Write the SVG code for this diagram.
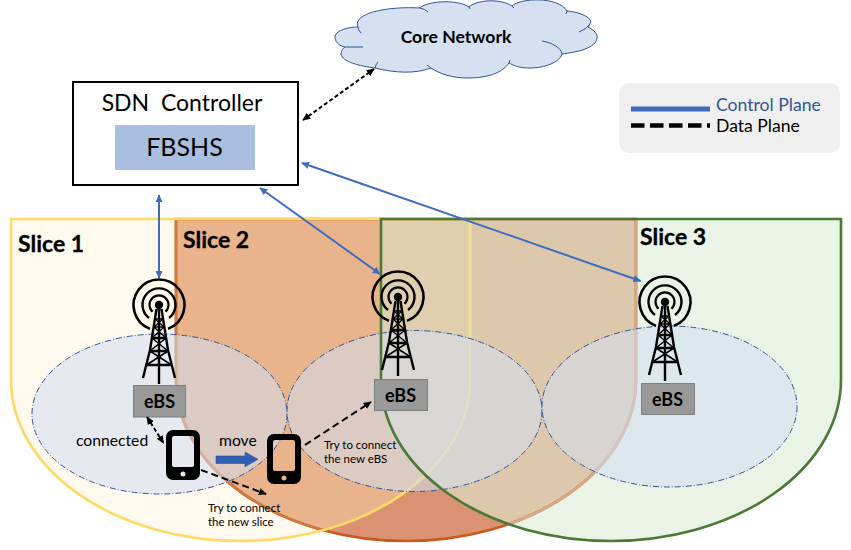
<svg xmlns="http://www.w3.org/2000/svg" xmlns:xlink="http://www.w3.org/1999/xlink" width="851" height="550" viewBox="0 0 851 550">
<style>
text{font-family:Lato,"Liberation Sans",sans-serif;fill:#000}
.b{font-weight:700}
.eb{font-weight:700;font-size:18px;text-anchor:middle}
.sl{font-weight:700;font-size:23px;stroke:#000;stroke-width:.3}
.sm{font-size:11.500px}
.ell{fill:rgb(210,222,243);fill-opacity:.55;stroke:#2f5597;stroke-width:1;stroke-dasharray:6 2 1 2}
.box{fill:#999;stroke:#7f7f7f;stroke-width:1}
.ctl{fill:none;stroke:#3f6cbf;stroke-width:2;marker-start:url(#ab);marker-end:url(#ab)}
.dat{fill:none;stroke:#000;stroke-width:2;stroke-dasharray:7 4}
.dns{stroke-dasharray:4 2.500}
.rng{fill:none;stroke:#000}
.tw{fill:none;stroke:#000;stroke-width:1.500}
</style>
<defs>
<path id="s1" d="M11,219H470V380A229.500,161 0 0 1 11,380Z"/>
<path id="s2" d="M176,219H636V380A230,161 0 0 1 176,380Z"/>
<path id="s3" d="M381,219H841V380A230,161 0 0 1 381,380Z"/>
<clipPath id="c1"><use xlink:href="#s1"/></clipPath>
<clipPath id="c2"><use xlink:href="#s2"/></clipPath>
<clipPath id="c3"><use xlink:href="#s3"/></clipPath>
<marker id="ab" viewBox="0 0 10 10" refX="9" refY="5" markerUnits="userSpaceOnUse" markerWidth="8" markerHeight="8" orient="auto-start-reverse"><path d="M0,0.500L10,5L0,9.500Z" fill="#3f6cbf"/></marker>
<marker id="ak" viewBox="0 0 10 10" refX="9" refY="5" markerUnits="userSpaceOnUse" markerWidth="8" markerHeight="8" orient="auto-start-reverse"><path d="M0,0.500L10,5L0,9.500Z" fill="#000"/></marker>
<g id="tower">
<path class="rng" stroke-width="2.600" d="M-9,23.900A25.500,25.500 0 1 1 9,23.900"/>
<path class="rng" stroke-width="2.400" d="M-10,13A16.500,16.500 0 1 1 10,13"/>
<path class="rng" stroke-width="2.200" d="M-6.500,6.800A9.500,9.500 0 1 1 6.500,6.800"/>
<circle r="4.200" fill="#000"/>
<path fill="none" stroke="#000" stroke-width="2.400" d="M-2.500,4L-9,45L-16,73M2.500,4L9,45L16,73M0,4V79"/>
<path class="tw" d="M-4,14H4M-5,22H5M-4,14L5,22M4,14L-5,22M-5,22L7,33M5,22L-7,33M-7,33L9,46M7,33L-9,46M-9,46L12.500,60M9,46L-12.500,60"/>
<path fill="none" stroke="#000" stroke-width="2.400" d="M-12.500,60H12.500M-9,46H9M-7,33H7"/>
</g>
<path id="phone" fill="#000" fill-rule="evenodd" d="M7,0H27A7,7 0 0 1 34,7V43A7,7 0 0 1 27,50H7A7,7 0 0 1 0,43V7A7,7 0 0 1 7,0ZM8,6A2,2 0 0 0 6,8V35A2,2 0 0 0 8,37H26A2,2 0 0 0 28,35V8A2,2 0 0 0 26,6ZM17,41.500A2.500,2.500 0 1 0 17,46.500A2.500,2.500 0 1 0 17,41.500Z"/>
</defs>
<rect width="851" height="550" fill="#fff"/>
<g id="slice-regions">
<use xlink:href="#s2" fill="#da9273"/>
<use xlink:href="#s1" fill="#fff9ee"/>
<g clip-path="url(#c2)"><use xlink:href="#s1" fill="#e9b48b"/></g>
<use xlink:href="#s3" fill="#e9f3e6"/>
<g clip-path="url(#c2)"><use xlink:href="#s3" fill="#dec8ab"/></g>
<g clip-path="url(#c1)"><use xlink:href="#s3" fill="#dfcfae"/></g>
</g>
<g id="slice-outlines" fill="none" stroke-width="2.600">
<use xlink:href="#s2" stroke="#c9591c"/>
<g clip-path="url(#c1)"><use xlink:href="#s2" stroke="#d4773f"/></g>
<use xlink:href="#s1" stroke="#ffd966"/>
<g clip-path="url(#c3)"><use xlink:href="#s2" stroke="#d6a987"/><use xlink:href="#s1" stroke="#ede3a0"/></g>
</g>
<g id="coverage">
<ellipse class="ell" cx="159.500" cy="414" rx="127.500" ry="80"/>
<ellipse class="ell" cx="414.500" cy="411" rx="127.500" ry="80.500"/>
<ellipse class="ell" cx="669.500" cy="406.500" rx="127.500" ry="80.500"/>
</g>
<use xlink:href="#s3" fill="none" stroke="#4a7a35" stroke-width="2.600"/>
<g id="slice-1"><text class="sl" x="18" y="252">Slice 1</text></g>
<g id="slice-2"><text class="sl" x="183" y="248">Slice 2</text></g>
<g id="slice-3"><text class="sl" x="640" y="245">Slice 3</text></g>
<g id="core-network">
<path fill="#d5e0f0" stroke="#2f5597" stroke-width="1" d="M358,27C352,14 385,6 420,8C425,2 455,-2 469,7C476,0 500,-2 512,6C520,-2 558,-4 567,11C580,12 594,18 590,24L588,27C594,30 598,34 597,38C596,48 578,52 562,54C560,62 545,68 530,68C520,68 514,66 509,63C500,76 480,78 468,78C452,78 440,74 431,68C415,74 395,73 375,68C360,66 342,62 341,54C341,51 343,48 345,47C335,45 335,38 335,36C337,30 348,27 358,27Z"/>
<path fill="none" stroke="#2f5597" stroke-width="1" d="M420,8Q425,9 428,12M469,7L470,9M512,6L514,8M567,11L566,14M590,24Q587,29 579,32M542,41C553,43 561,48 562,54M509,63L510,60M431,68L427,65M375,68Q376,64 378,62M345,47Q355,47 363,47M358,27Q358,30 361,33"/>
<text class="b" x="456" y="43" font-size="17.600" text-anchor="middle">Core Network</text>
</g>
<g id="sdn-controller">
<rect x="73" y="82" width="225" height="103" fill="#fff" stroke="#000" stroke-width="2"/>
<rect x="115" y="125" width="140" height="45" fill="#a9bfe0"/>
<text x="182" y="111" font-size="23" text-anchor="middle" xml:space="preserve">SDN  Controller</text>
<text x="184.500" y="156" font-size="25" text-anchor="middle">FBSHS</text>
</g>
<g id="legend">
<rect x="619" y="83" width="221" height="70" rx="10" fill="#efefef"/>
<line x1="631" y1="109" x2="710" y2="109" stroke="#3f6cbf" stroke-width="5"/>
<line x1="631" y1="125.500" x2="710" y2="125.500" stroke="#000" stroke-width="4.500" stroke-dasharray="13.500 5.500"/>
<text x="716" y="111" font-size="17.600" style="fill:#2f5597">Control Plane</text>
<text x="716" y="132" font-size="17.600">Data Plane</text>
</g>
<g id="ebs-1"><use xlink:href="#tower" x="159" y="305"/><rect class="box" x="133.500" y="385.500" width="52" height="31.500"/><text class="eb" x="159.500" y="407.500">eBS</text></g>
<g id="ebs-2"><use xlink:href="#tower" x="398" y="297"/><rect class="box" x="374.500" y="379.500" width="53" height="31"/><text class="eb" x="400.500" y="401.500">eBS</text></g>
<g id="ebs-3"><use xlink:href="#tower" x="665" y="302"/><rect class="box" x="641.500" y="383.500" width="53" height="31"/><text class="eb" x="667.500" y="405.500">eBS</text></g>
<g id="phone-1"><use xlink:href="#phone" x="166" y="430"/></g>
<g id="phone-2"><use xlink:href="#phone" x="267" y="434"/></g>
<g id="connectors">
<line class="ctl" x1="159" y1="195" x2="159" y2="278"/>
<line class="ctl" x1="260" y1="188" x2="380" y2="274"/>
<line class="ctl" x1="302" y1="163" x2="640.500" y2="281"/>
<line class="dat dns" x1="303" y1="120" x2="374" y2="69" marker-start="url(#ak)" marker-end="url(#ak)"/>
<line class="dat dns" x1="147" y1="417" x2="163.500" y2="443" marker-start="url(#ak)" marker-end="url(#ak)"/>
<line class="dat" x1="201" y1="470" x2="266" y2="494" marker-end="url(#ak)"/>
<line class="dat" x1="305" y1="445" x2="371" y2="402" marker-end="url(#ak)"/>
<path d="M216,456H245V452L258,459.300L245,466.700V463.500H216Z" fill="#2f5fb0" stroke="#2f5597" stroke-width=".6"/>
</g>
<text x="76" y="446" font-size="15.700">connected</text>
<text x="219" y="446" font-size="15.700">move</text>
<text class="sm" x="324" y="449">Try to connect</text>
<text class="sm" x="324" y="463">the new eBS</text>
<text class="sm" x="208" y="512">Try to connect</text>
<text class="sm" x="208" y="526">the new slice</text>
</svg>
